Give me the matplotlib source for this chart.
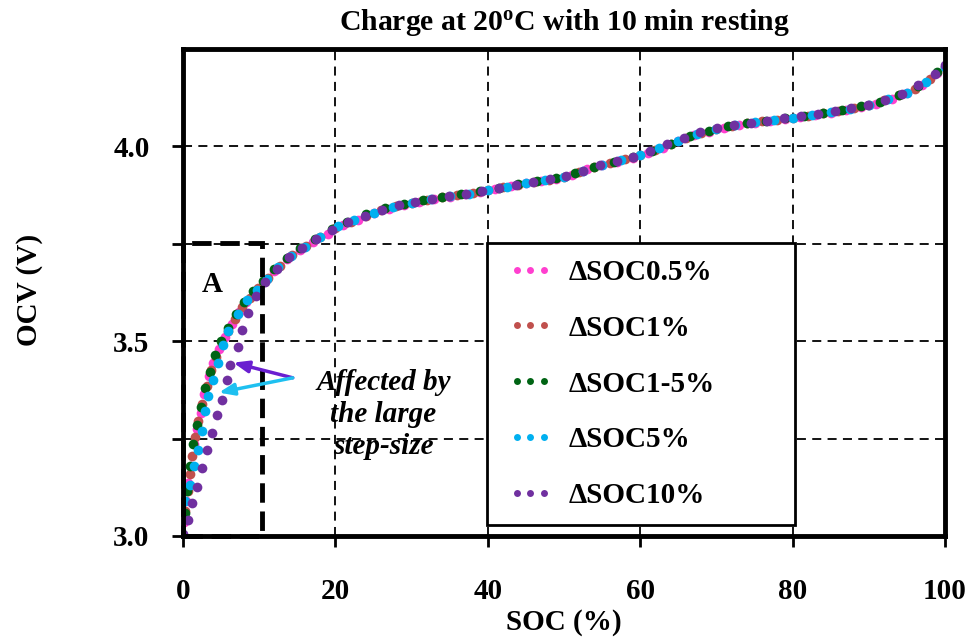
import matplotlib
matplotlib.use("Agg")
import matplotlib.pyplot as plt
from matplotlib.lines import Line2D
from matplotlib.patches import Rectangle
from matplotlib.legend_handler import HandlerLine2D

plt.rcParams['font.family'] = ['Liberation Serif', 'DejaVu Serif']
plt.rcParams['font.weight'] = 'bold'
plt.rcParams['mathtext.fontset'] = 'custom'
plt.rcParams['mathtext.rm'] = 'Liberation Serif:bold'
plt.rcParams['mathtext.bf'] = 'Liberation Serif:bold'
plt.rcParams['mathtext.it'] = 'Liberation Serif:bold:italic'

title = "Charge at 20$^{\\mathrm{o}}$C with 10 min resting"
xlabel = "SOC (%)"
ylabel = "OCV (V)"
labels = ["\u0394SOC0.5%", "\u0394SOC1%", "\u0394SOC1-5%", "\u0394SOC5%", "\u0394SOC10%"]
colors = ["#FF3FCF", "#C0504D", "#006414", "#00B0F0", "#7030A0"]

xticks = [0, 20, 40, 60, 80, 100]
yticks = [3.0, 3.25, 3.5, 3.75, 4.0]
ytick_labels = ["3.0", "", "3.5", "", "4.0"]

# dSOC 0.5%
soc_05 = [0.1, 0.4, 0.7, 1.0, 1.4, 1.8, 2.3, 2.8, 3.4, 4.0, 4.7, 5.5, 6.4, 7.3, 8.3,
          9.4, 10.6, 12.0, 13.6, 15.3, 17.1, 19.0, 21.0, 23.0, 25.0, 27.0, 29.0, 31.0,
          33.0, 35.0, 37.0, 39.0, 41.0, 43.0, 45.0, 47.0, 49.0, 51.0, 53.0, 55.0, 57.0,
          59.0, 61.0, 63.0, 65.0, 67.0, 69.0, 71.0, 73.0, 75.0, 77.0, 79.0, 81.0, 83.0,
          85.0, 87.0, 89.0, 91.0, 93.0, 95.0, 97.0, 99.0]
ocv_05 = [3.035, 3.09, 3.135, 3.18, 3.235, 3.275, 3.315, 3.365, 3.41, 3.445, 3.48, 3.51,
          3.545, 3.575, 3.60, 3.628, 3.652, 3.68, 3.71, 3.735, 3.754, 3.776, 3.797, 3.812,
          3.828, 3.840, 3.850, 3.858, 3.865, 3.871, 3.877, 3.884, 3.891, 3.898, 3.905,
          3.911, 3.917, 3.927, 3.941, 3.951, 3.961, 3.971, 3.984, 3.997, 4.013, 4.028,
          4.038, 4.048, 4.054, 4.060, 4.065, 4.070, 4.075, 4.080, 4.086, 4.093, 4.101,
          4.110, 4.122, 4.136, 4.158, 4.188]

# dSOC 1%
soc_1 = [0.3, 0.6, 0.9, 1.2, 1.6, 2.0, 2.5, 3.1, 3.7, 4.3, 5.1, 5.9, 6.8, 7.8, 8.8, 9.9,
         11.2, 12.7, 14.3, 16.1, 18.0, 20.0, 22.0, 24.0, 26.0, 28.0, 30.0, 32.0, 34.0,
         36.0, 38.0, 40.0, 42.0, 44.0, 46.0, 48.0, 50.0, 52.0, 54.0, 56.0, 58.0, 60.0,
         62.0, 64.0, 66.0, 68.0, 70.0, 72.0, 74.0, 76.0, 78.0, 80.0, 82.0, 84.0, 86.0,
         88.0, 90.0, 92.0, 94.0, 96.0, 98.0, 100.0]
ocv_1 = [3.065, 3.115, 3.16, 3.205, 3.255, 3.295, 3.34, 3.385, 3.425, 3.46, 3.495, 3.525,
         3.558, 3.588, 3.612, 3.637, 3.663, 3.693, 3.72, 3.745, 3.768, 3.79, 3.807, 3.822,
         3.836, 3.847, 3.856, 3.863, 3.869, 3.875, 3.881, 3.888, 3.895, 3.902, 3.909,
         3.915, 3.922, 3.935, 3.947, 3.957, 3.967, 3.978, 3.992, 4.007, 4.022, 4.035,
         4.045, 4.053, 4.059, 4.064, 4.069, 4.074, 4.079, 4.085, 4.091, 4.099, 4.107,
         4.118, 4.131, 4.148, 4.174, 4.203]

# dSOC 1-5%
soc_15 = [0.2, 0.5, 0.9, 1.3, 1.8, 2.3, 2.9, 3.5, 4.2, 5.0, 5.9, 6.9, 8.0, 9.2, 10.5,
          12.0, 13.6, 15.4, 17.3, 19.5, 21.5, 24.0, 26.5, 29.0, 31.5, 34.0, 36.5, 39.0,
          41.5, 44.0, 46.5, 49.0, 51.5, 54.0, 56.5, 59.0, 61.5, 64.0, 66.5, 69.0, 71.5,
          74.0, 76.5, 79.0, 81.5, 84.0, 86.5, 89.0, 91.5, 94.0, 96.5, 99.0]
ocv_15 = [3.06, 3.115, 3.18, 3.235, 3.285, 3.33, 3.38, 3.42, 3.465, 3.50, 3.535, 3.57,
          3.60, 3.63, 3.655, 3.685, 3.713, 3.74, 3.762, 3.787, 3.806, 3.826, 3.841, 3.853,
          3.862, 3.870, 3.877, 3.886, 3.894, 3.903, 3.911, 3.918, 3.931, 3.947, 3.960,
          3.972, 3.988, 4.007, 4.027, 4.040, 4.052, 4.059, 4.066, 4.072, 4.078, 4.085,
          4.094, 4.103, 4.115, 4.131, 4.155, 4.19]

# dSOC 5%
soc_5 = [0.3, 0.9, 1.5, 2.0, 2.5, 2.9, 3.3, 3.9, 4.6, 5.3, 5.9, 7.2, 8.4, 9.7, 11.0,
         12.5, 14.2, 16.0, 18.0, 20.3, 22.5, 25.0, 27.5, 30.0, 32.5, 35.0, 37.5, 40.0,
         42.5, 45.0, 47.5, 50.0, 52.5, 55.0, 57.5, 60.0, 62.5, 65.0, 67.5, 70.0, 72.5,
         75.0, 77.5, 80.0, 82.5, 85.0, 87.5, 90.0, 92.5, 95.0, 97.5, 100.0]
ocv_5 = [3.09, 3.13, 3.18, 3.22, 3.27, 3.32, 3.36, 3.40, 3.445, 3.49, 3.525, 3.57, 3.605,
         3.632, 3.66, 3.69, 3.718, 3.743, 3.768, 3.795, 3.811, 3.83, 3.844, 3.856, 3.864,
         3.872, 3.879, 3.888, 3.897, 3.906, 3.913, 3.922, 3.938, 3.952, 3.964, 3.978,
         3.995, 4.015, 4.032, 4.045, 4.055, 4.062, 4.068, 4.074, 4.081, 4.088, 4.097,
         4.107, 4.121, 4.138, 4.166, 4.205]

# dSOC 10%
soc_10 = [0.0, 0.7, 1.2, 1.8, 2.5, 3.1, 3.8, 4.5, 5.1, 5.8, 6.2, 7.2, 7.7, 8.5, 9.6, 10.8,
          12.3, 13.9, 15.6, 17.5, 19.5, 21.7, 23.9, 26.1, 28.3, 30.5, 32.7, 34.9, 37.1,
          39.3, 41.5, 43.7, 45.9, 48.1, 50.3, 52.5, 54.7, 56.9, 59.1, 61.3, 63.5, 65.7,
          67.9, 70.1, 72.3, 74.5, 76.7, 78.9, 81.1, 83.3, 85.5, 87.7, 89.9, 92.1, 94.3,
          96.5, 98.7, 100.0]
ocv_10 = [3.005, 3.041, 3.085, 3.126, 3.175, 3.22, 3.265, 3.31, 3.35, 3.40, 3.44, 3.486,
          3.53, 3.573, 3.615, 3.652, 3.685, 3.715, 3.74, 3.763, 3.785, 3.806, 3.822, 3.836,
          3.849, 3.858, 3.865, 3.872, 3.878, 3.886, 3.894, 3.901, 3.909, 3.916, 3.924,
          3.938, 3.951, 3.962, 3.973, 3.988, 4.005, 4.022, 4.036, 4.046, 4.055, 4.061,
          4.066, 4.072, 4.077, 4.083, 4.090, 4.098, 4.107, 4.120, 4.134, 4.157, 4.187,
          4.208]

series = [(soc_05, ocv_05), (soc_1, ocv_1), (soc_15, ocv_15), (soc_5, ocv_5), (soc_10, ocv_10)]

# annotation geometry (data coords)
box_a = (0.0, 3.0, 10.4, 0.753)
label_a_pos = (3.9, 3.645)
note_text = "Affected by\nthe large\nstep-size"
note_pos = (26.3, 3.312)
arrow_tail = (14.4, 3.406)
arrow_tip_purple = (6.6, 3.445)
arrow_tip_cyan = (4.7, 3.368)

fig = plt.figure(figsize=(9.74, 6.43), dpi=100)
W, H = 974, 643
ax = fig.add_axes([183 / W, 1 - 536 / H, (945 - 183) / W, (536 - 49) / H])

for (s, v), c, lab in zip(series, colors, labels):
    ax.plot(s, v, linestyle='none', marker='o', ms=7, mec='none', mfc=c, label=lab,
            zorder=3)

ax.set_xlim(0, 100)
ax.set_ylim(3.0, 4.25)
ax.set_xticks(xticks)
ax.set_yticks(yticks)
ax.set_yticklabels(ytick_labels)
ax.tick_params(axis='x', direction='out', length=8, width=2, pad=22, labelsize=21)
ax.tick_params(axis='y', direction='out', length=8, width=2, pad=16, labelsize=21)
for sp in ax.spines.values():
    sp.set_linewidth(3.5)
    sp.set_zorder(5)

ax.grid(True, color='black', linestyle=(0, (5, 3.5)), linewidth=1.3, zorder=1)
ax.set_axisbelow(True)

ax.set_title(title, fontsize=21.4, fontweight='bold', pad=14)
ax.set_xlabel(xlabel, fontsize=21, fontweight='bold')
ax.set_ylabel(ylabel, fontsize=21, fontweight='bold')
ax.xaxis.set_label_coords((564 - 183) / 762, (536 - 609) / 487)
ax.yaxis.set_label_coords((43 - 183) / 762, (536 - 290) / 487)

# dashed box A
ax.add_patch(Rectangle((box_a[0], box_a[1]), box_a[2], box_a[3], fill=False,
                       edgecolor='black', linewidth=3.5, linestyle=(0, (4, 1.8)),
                       clip_on=False, zorder=4))
ax.text(label_a_pos[0], label_a_pos[1], "A", fontsize=21, fontweight='bold',
        ha='center', va='center', zorder=6)

ax.text(note_pos[0], note_pos[1], note_text, fontsize=21, fontweight='bold',
        fontstyle='italic', ha='center', va='center', linespacing=1.22, zorder=6)
ax.annotate("", xy=arrow_tip_purple, xytext=arrow_tail,
            arrowprops=dict(arrowstyle='-|>,head_length=0.9,head_width=0.35',
                            color='#6A1FD0', lw=2.5, shrinkA=0, shrinkB=0), zorder=6)
ax.annotate("", xy=arrow_tip_cyan, xytext=arrow_tail,
            arrowprops=dict(arrowstyle='-|>,head_length=0.9,head_width=0.35',
                            color='#1EC0F0', lw=2.5, shrinkA=0, shrinkB=0), zorder=6)

handles = [Line2D([], [], linestyle='none', marker='o', ms=5, mec='none', mfc=c)
           for c in colors]
leg = ax.legend(handles, labels, loc='upper left',
                bbox_to_anchor=((487 - 183) / 762, (536 - 523) / 487,
                                (795 - 487) / 762, (523 - 243) / 487),
                mode='expand', borderaxespad=0, fontsize=21, numpoints=3,
                handlelength=1.9, handletextpad=0.35, borderpad=0.54,
                labelspacing=0.99, fancybox=False, framealpha=1,
                edgecolor='black',
                handler_map={Line2D: HandlerLine2D(numpoints=3, marker_pad=0.5)})
leg.get_frame().set_linewidth(2.0)
leg.set_zorder(7)

fig.savefig("out.png", dpi=100)
